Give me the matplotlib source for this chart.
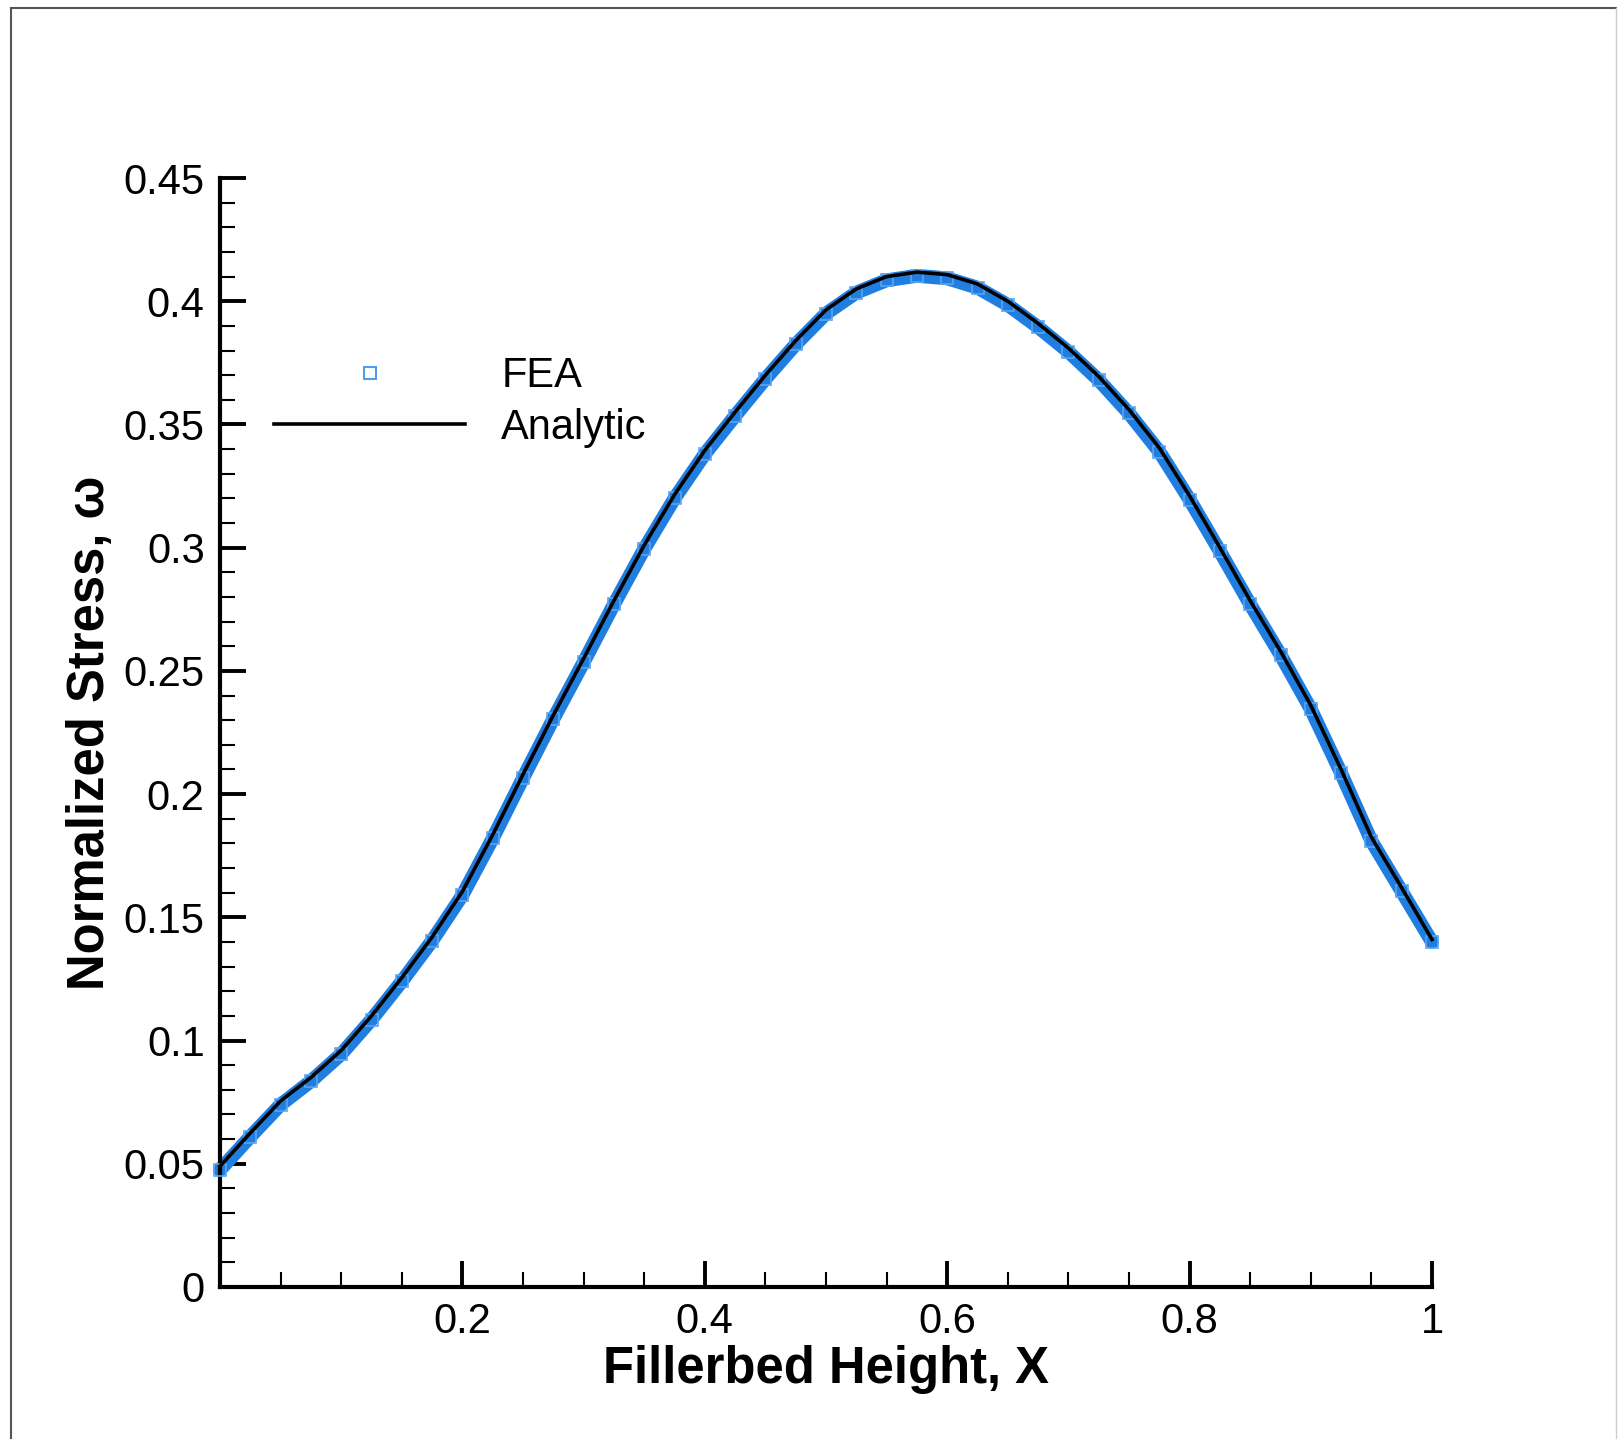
import matplotlib
matplotlib.use("Agg")
import matplotlib.pyplot as plt
from matplotlib.lines import Line2D
import numpy as np

plt.rcParams['font.family'] = ['Liberation Sans', 'DejaVu Sans']

# analytic solution
x_an = [0.000, 0.025, 0.050, 0.075, 0.100, 0.125, 0.150, 0.175, 0.200, 0.225,
        0.250, 0.275, 0.300, 0.325, 0.350, 0.375, 0.400, 0.425, 0.450, 0.475,
        0.500, 0.525, 0.550, 0.575, 0.600, 0.625, 0.650, 0.675, 0.700, 0.725,
        0.750, 0.775, 0.800, 0.825, 0.850, 0.875, 0.900, 0.925, 0.950, 0.975, 1.000]
y_an = [0.0490, 0.0625, 0.0755, 0.0850, 0.0960, 0.1100, 0.1255, 0.1420, 0.1605, 0.1835,
        0.2080, 0.2320, 0.2550, 0.2785, 0.3010, 0.3215, 0.3395, 0.3550, 0.3700, 0.3840,
        0.3965, 0.4050, 0.4100, 0.4118, 0.4108, 0.4070, 0.4000, 0.3910, 0.3810, 0.3695,
        0.3560, 0.3405, 0.3210, 0.3000, 0.2785, 0.2580, 0.2360, 0.2100, 0.1825, 0.1620, 0.1410]

# FEA results
x_fea = [0.000, 0.025, 0.050, 0.075, 0.100, 0.125, 0.150, 0.175, 0.200, 0.225,
         0.250, 0.275, 0.300, 0.325, 0.350, 0.375, 0.400, 0.425, 0.450, 0.475,
         0.500, 0.525, 0.550, 0.575, 0.600, 0.625, 0.650, 0.675, 0.700, 0.725,
         0.750, 0.775, 0.800, 0.825, 0.850, 0.875, 0.900, 0.925, 0.950, 0.975, 1.000]
y_fea = [0.0475, 0.0610, 0.0740, 0.0835, 0.0945, 0.1085, 0.1240, 0.1405, 0.1590, 0.1820,
         0.2065, 0.2305, 0.2535, 0.2770, 0.2995, 0.3200, 0.3380, 0.3535, 0.3685, 0.3825,
         0.3950, 0.4035, 0.4085, 0.4103, 0.4093, 0.4055, 0.3985, 0.3895, 0.3795, 0.3680,
         0.3545, 0.3390, 0.3195, 0.2985, 0.2770, 0.2565, 0.2345, 0.2085, 0.1810, 0.1605, 0.1400]

blue = '#1f7ee0'

fig = plt.figure(figsize=(16.18, 14.4), dpi=100)
ax = fig.add_axes([220/1618, 1 - 1287/1440, 1212/1618, 1109/1440])

ax.plot(x_fea, y_fea, '-', color=blue, lw=10, clip_on=False, zorder=2,
        solid_joinstyle='round', solid_capstyle='round')
ax.plot(x_fea, y_fea, 's', mfc='none', mec='#5aa4f2', ms=8, mew=1.2, clip_on=False, zorder=3)
ax.plot(x_an, y_an, '-', color='black', lw=2.6, clip_on=False, zorder=4,
        solid_joinstyle='round')

ax.set_xlim(0, 1)
ax.set_ylim(0, 0.45)
ax.spines['top'].set_visible(False)
ax.spines['right'].set_visible(False)
for s in ['left', 'bottom']:
    ax.spines[s].set_linewidth(3)

xt = [0, 0.2, 0.4, 0.6, 0.8, 1.0]
ax.set_xticks(xt)
ax.set_xticklabels(['', '0.2', '0.4', '0.6', '0.8', '1'])
ax.set_xticks(np.arange(0, 1.001, 0.05), minor=True)
yt = np.arange(0, 0.451, 0.05)
ax.set_yticks(yt)
ax.set_yticklabels(['%g' % round(v, 2) for v in yt])
ax.set_yticks(np.arange(0, 0.451, 0.01), minor=True)

ax.tick_params(which='major', direction='in', length=19, width=2.8, labelsize=30, pad=11)
ax.tick_params(which='minor', direction='in', length=11, width=1.5)

ax.set_xlabel('Fillerbed Height, X', fontsize=36.5, fontweight='bold', labelpad=2)
ax.set_ylabel('Normalized Stress, ω', fontsize=36.5, fontweight='bold', labelpad=6)

handles = [Line2D([], [], marker='s', ls='none', mfc='none', mec='#4f9cf0', ms=8, mew=1.5),
           Line2D([], [], color='black', lw=2.6)]
ax.legend(handles, ['FEA', 'Analytic'], loc='center left', bbox_to_anchor=(0.0443, 0.798),
          frameon=False, fontsize=30, handlelength=4.6, handletextpad=0.86,
          labelspacing=0.27, borderpad=0, borderaxespad=0)

# thin frame around the picture
fig.add_artist(Line2D([11/1618, 1616/1618], [1 - 8/1440, 1 - 8/1440], transform=fig.transFigure, color='#555555', lw=1.5))
fig.add_artist(Line2D([11/1618, 11/1618], [1 - 8/1440, 2/1440], transform=fig.transFigure, color='#555555', lw=1.5))
fig.add_artist(Line2D([1616/1618, 1616/1618], [1 - 8/1440, 2/1440], transform=fig.transFigure, color='#cccccc', lw=1))

fig.savefig('out.png', dpi=100)
